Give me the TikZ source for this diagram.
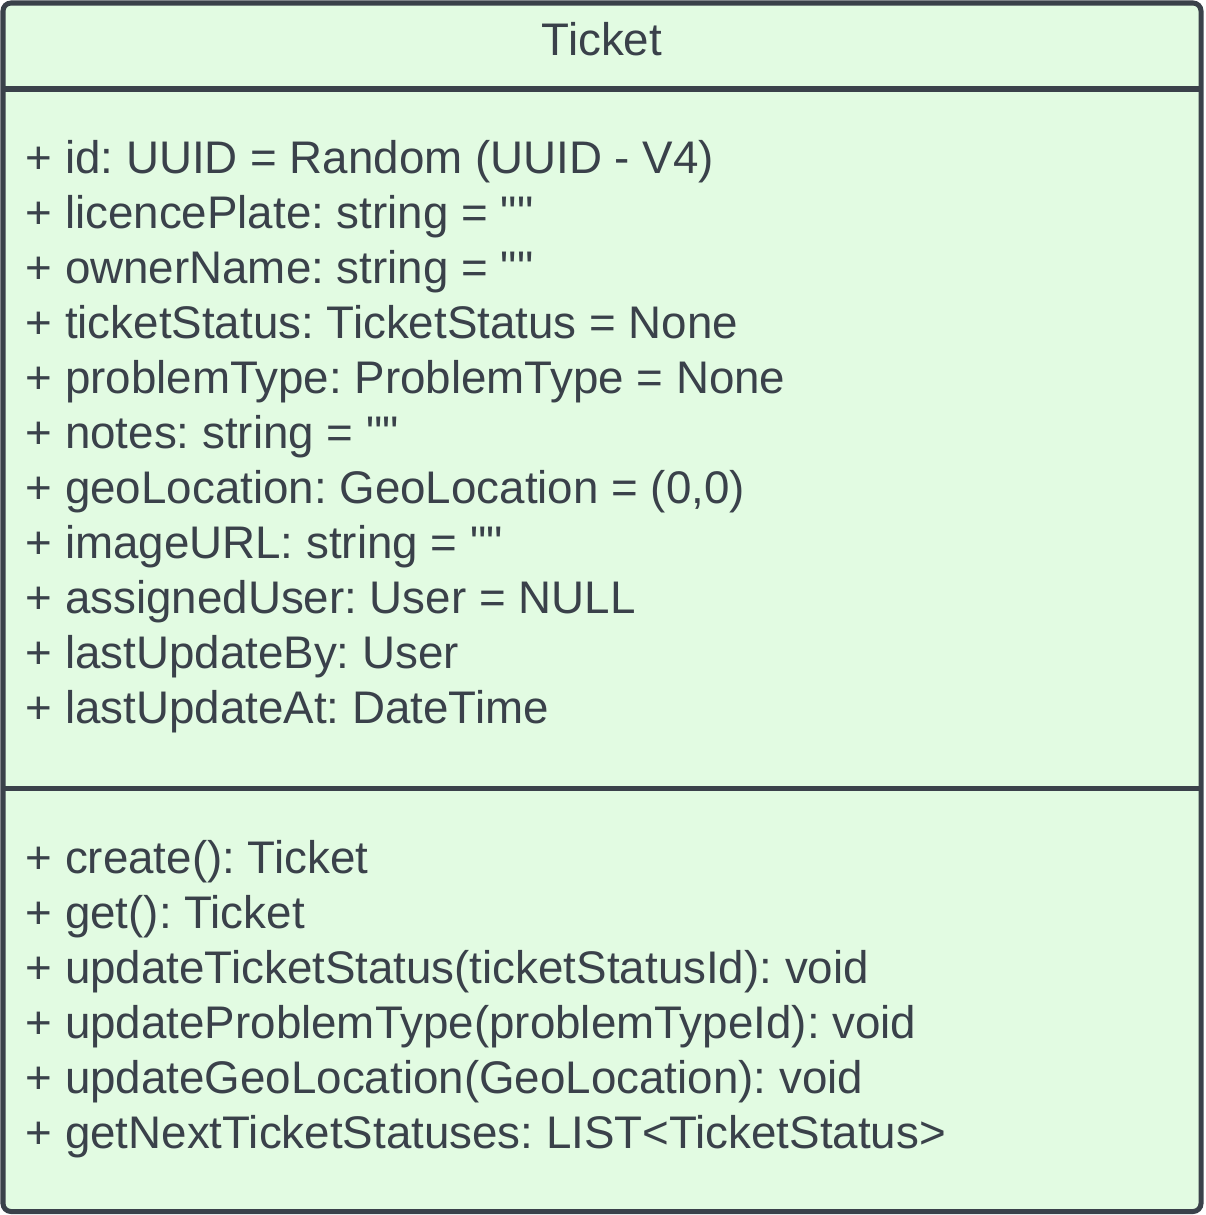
\documentclass[tikz,border=0pt]{standalone}
\usepackage{fontspec}
\setmainfont{Liberation Sans}[Ligatures=TeXOff]
\usepackage{tikz}
\usetikzlibrary{calc}

\definecolor{umlfill}{HTML}{E2FBE2}
\definecolor{umlline}{HTML}{3A414A}

\tikzset{
  classbox/.style={draw=umlline, fill=umlfill, line width=0.05cm, rounded corners=0.08cm},
  divider/.style={draw=umlline, line width=0.05cm},
  member/.style={anchor=base west, inner sep=0pt, text=umlline, font=\fontsize{13}{15}\selectfont\frenchspacing},
  title/.style={anchor=base, inner sep=0pt, text=umlline, font=\fontsize{13}{15}\selectfont}
}

\begin{document}
\begin{tikzpicture}[x=0.01cm, y=-0.01cm]
      \useasboundingbox (0,0) rectangle (1206,1215);

      \coordinate (tl) at (3,3);
      \coordinate (br) at (1201,1211.5);
      \draw[classbox] (tl) rectangle (br);

      \coordinate (h1) at (3,89);
      \coordinate (h2) at (1201,89);
      \coordinate (m1) at (3,788.5);
      \coordinate (m2) at (1201,788.5);
      \draw[divider] (h1) -- (h2);
      \draw[divider] (m1) -- (m2);

      \node[title] (name) at (602,55) {Ticket};

      % attributes
      \foreach \txt [count=\i] in {
          {+ id: UUID = Random (UUID - V4)},
          {+ licencePlate: string = ""},
          {+ ownerName: string = ""},
          {+ ticketStatus: TicketStatus = None},
          {+ problemType: ProblemType = None},
          {+ notes: string = ""},
          {+ geoLocation: GeoLocation = (0,0)},
          {+ imageURL: string = ""},
          {+ assignedUser: User = NULL},
          {+ lastUpdateBy: User},
          {+ lastUpdateAt: DateTime}}
        \node[member] (attr\i) at (25,{173+55*(\i-1)}) {\txt};

      % operations
      \foreach \txt [count=\i] in {
          {+ create(): Ticket},
          {+ get(): Ticket},
          {+ updateTicketStatus(ticketStatusId): void},
          {+ updateProblemType(problemTypeId): void},
          {+ updateGeoLocation(GeoLocation): void},
          {+ getNextTicketStatuses: LIST<TicketStatus>}}
        \node[member] (op\i) at (25,{873+55*(\i-1)}) {\txt};

    \end{tikzpicture}
\end{document}
